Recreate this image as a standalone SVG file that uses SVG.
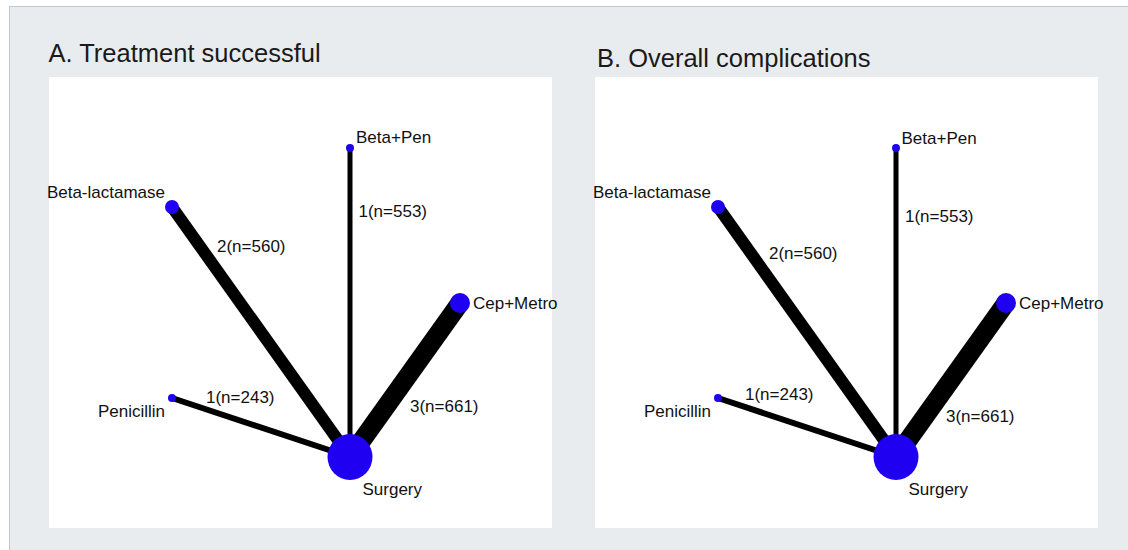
<svg xmlns="http://www.w3.org/2000/svg" width="1128" height="550" viewBox="0 0 1128 550">
<style>
.title{font-family:"Liberation Sans",Arial,sans-serif;font-size:25.5px;fill:#1a1a1a}
.lbl{font-family:"Liberation Sans",Arial,sans-serif;font-size:17px;fill:#111}
.node{fill:#2000f0}
.edge{stroke:#000;stroke-linecap:butt;fill:none}
</style>
<rect x="0" y="0" width="1128" height="550" fill="#ffffff"/>
<rect x="9.5" y="6.5" width="1130" height="560" fill="#e8ecef" stroke="#c4c6c8" stroke-width="1"/>
<text class="title" x="48.5" y="62">A. Treatment successful</text>
<text class="title" x="597" y="67">B. Overall complications</text>
<rect x="49" y="77" width="503" height="451" fill="#ffffff"/>
<rect x="595" y="77" width="503" height="451" fill="#ffffff"/>

<g id="connectors">
<line class="edge" x1="350" y1="457" x2="350" y2="148" stroke-width="5"/>
<line class="edge" x1="350" y1="457" x2="172" y2="207" stroke-width="12"/>
<line class="edge" x1="350" y1="457" x2="460" y2="303" stroke-width="19"/>
<line class="edge" x1="350" y1="457" x2="172" y2="398" stroke-width="6"/>
<line class="edge" x1="896" y1="457" x2="896" y2="148" stroke-width="5"/>
<line class="edge" x1="896" y1="457" x2="718" y2="207" stroke-width="12"/>
<line class="edge" x1="896" y1="457" x2="1006" y2="303" stroke-width="19"/>
<line class="edge" x1="896" y1="457" x2="718" y2="398" stroke-width="6"/>
<text class="lbl" x="358.5" y="217">1(n=553)</text>
<text class="lbl" x="217" y="252">2(n=560)</text>
<text class="lbl" x="206" y="403">1(n=243)</text>
<text class="lbl" x="410" y="412">3(n=661)</text>
<text class="lbl" x="905" y="222">1(n=553)</text>
<text class="lbl" x="769" y="259">2(n=560)</text>
<text class="lbl" x="745" y="400">1(n=243)</text>
<text class="lbl" x="946" y="422">3(n=661)</text>
</g>

<g id="A-betapen"><circle class="node" cx="350" cy="148" r="4"/><text class="lbl" x="356" y="143">Beta+Pen</text></g>
<g id="A-betalactamase"><circle class="node" cx="172" cy="207" r="7"/><text class="lbl" x="165" y="198" text-anchor="end">Beta-lactamase</text></g>
<g id="A-cepmetro"><circle class="node" cx="460" cy="303" r="10"/><text class="lbl" x="473" y="309">Cep+Metro</text></g>
<g id="A-penicillin"><circle class="node" cx="172" cy="398" r="4"/><text class="lbl" x="165" y="417" text-anchor="end">Penicillin</text></g>
<g id="A-surgery"><ellipse class="node" cx="350" cy="457" rx="22.5" ry="23"/><text class="lbl" x="362.5" y="495">Surgery</text></g>

<g id="B-betapen"><circle class="node" cx="896" cy="148" r="4"/><text class="lbl" x="901.5" y="144">Beta+Pen</text></g>
<g id="B-betalactamase"><circle class="node" cx="718" cy="207" r="7"/><text class="lbl" x="711" y="198" text-anchor="end">Beta-lactamase</text></g>
<g id="B-cepmetro"><circle class="node" cx="1006" cy="303" r="10"/><text class="lbl" x="1019" y="309">Cep+Metro</text></g>
<g id="B-penicillin"><circle class="node" cx="718" cy="398" r="4"/><text class="lbl" x="711" y="417" text-anchor="end">Penicillin</text></g>
<g id="B-surgery"><ellipse class="node" cx="896" cy="457" rx="22.5" ry="23"/><text class="lbl" x="908.5" y="495">Surgery</text></g>
</svg>
